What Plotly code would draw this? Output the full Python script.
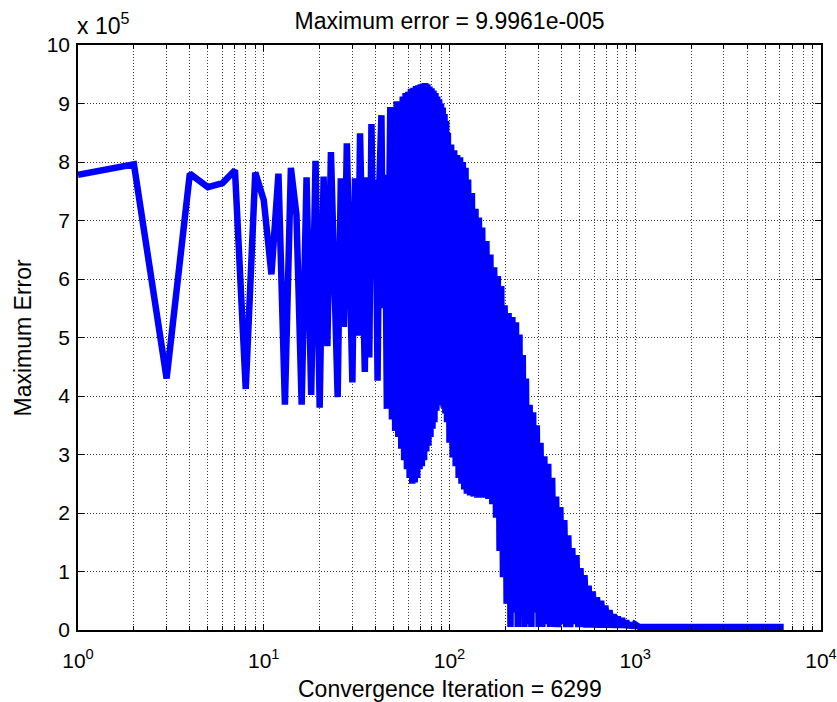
import plotly.graph_objects as go

# ---- data (iteration, maximum error in units of 1e5) ----
iters = [1, 2, 3, 4, 5, 6, 7, 8, 9, 10, 11, 12, 13, 14, 15, 16, 17, 18, 19, 20,
         21, 22, 23, 24, 25, 26, 27, 28, 29, 30, 31, 32, 33, 34, 35, 36, 37, 38, 39, 40,
         41, 42, 43, 44, 45, 46, 47, 48, 49, 50, 51, 52, 53, 54, 55, 56, 57, 58, 59, 60,
         61, 62, 63, 64, 65, 66, 67, 68, 69, 70, 71, 72, 73, 74, 75, 76, 77, 78, 79, 80,
         81, 82, 83, 84, 85, 86, 87, 88, 89, 90, 91, 92, 93, 94, 95, 96, 97, 98, 100, 102,
         104, 106, 108, 110, 112, 114, 116, 118, 120, 122, 124, 126, 129, 132, 135, 138, 141, 144, 147, 150,
         154, 158, 162, 166, 170, 174, 178, 182, 186, 190, 194, 198, 203, 208, 213, 218, 223, 228, 233, 238,
         243, 248, 253, 258, 264, 270, 276, 282, 288, 295, 302, 309, 316, 324, 332, 340, 348, 357, 366, 375,
         385, 395, 405, 415, 425, 436, 447, 458, 470, 482, 494, 507, 520, 533, 547, 561, 575, 590, 606, 622,
         638, 655, 672, 690, 708, 727, 746, 765, 785, 806, 827, 849, 871, 894, 918, 942, 967, 992, 1050, 1200,
         6299]

max_err = [7.78, 7.96, 4.30, 7.80, 7.57, 7.64, 7.86, 4.12, 7.82, 7.35, 6.08, 7.80, 3.85, 7.90, 7.10, 3.85, 7.74, 4.02, 8.02, 3.80,
           7.75, 4.85, 8.17, 5.90, 3.98, 7.72, 5.18, 8.32, 6.20, 4.23, 7.72, 5.03, 8.49, 6.40, 4.41, 7.74, 4.66, 8.65, 6.00, 7.70,
           4.26, 7.75, 8.80, 5.50, 7.78, 3.78, 7.20, 8.94, 3.60, 7.80, 3.40, 9.04, 3.30, 8.50, 3.10, 9.12, 2.90, 9.18, 2.75, 9.20,
           2.60, 9.25, 2.50, 9.27, 2.52, 9.30, 2.60, 9.31, 2.75, 9.33, 2.80, 9.34, 2.90, 9.35, 3.05, 9.33, 3.15, 9.29, 3.30, 9.26,
           3.44, 9.22, 3.55, 9.18, 3.75, 9.12, 3.84, 9.07, 3.86, 9.00, 3.88, 8.93, 3.80, 8.82, 3.70, 8.70, 3.55, 8.50, 3.20, 8.30,
           2.95, 8.20, 2.80, 8.12, 2.60, 8.08, 2.50, 8.00, 2.40, 7.90, 2.33, 7.70, 2.30, 7.47, 2.28, 7.20, 2.26, 7.05, 2.26, 6.88,
           2.26, 6.65, 2.24, 6.42, 2.15, 6.20, 1.92, 6.05, 1.35, 5.88, 0.90, 5.55, 0.45, 5.42, 0.05, 5.35, 0.30, 5.26, 0.05, 5.05,
           0.60, 4.70, 0.05, 4.30, 0.10, 3.85, 0.05, 3.72, 0.30, 3.50, 0.05, 3.20, 0.05, 2.97, 0.10, 2.84, 0.05, 2.60, 0.05, 2.28,
           0.05, 2.10, 0.10, 1.88, 0.05, 1.62, 0.05, 1.40, 0.10, 1.28, 0.05, 1.06, 0.05, 0.94, 0.04, 0.76, 0.04, 0.66, 0.04, 0.56,
           0.04, 0.50, 0.04, 0.42, 0.04, 0.34, 0.04, 0.27, 0.04, 0.23, 0.04, 0.20, 0.04, 0.16, 0.04, 0.12, 0.04, 0.10, 0.05, 0.05,
           0.05]

x_tickvals = [1, 10, 100, 1000, 10000]
x_ticktext = ["10<sup>0</sup>", "10<sup>1</sup>", "10<sup>2</sup>", "10<sup>3</sup>", "10<sup>4</sup>"]
x_minor = [m * 10 ** k for k in range(4) for m in range(2, 10)]
y_tickvals = list(range(0, 11))

title_text = "Maximum error = 9.9961e-005"
xlabel_text = "Convergence Iteration = 6299"
ylabel_text = "Maximum Error"
scale_text = "x 10<sup>5</sup>"

FONT = "Liberation Sans, Arial, sans-serif"
FS_TICK = 21
FS_LAB = 23
W, H = 837, 702
L, R, T, B = 78, 16, 45, 72
plot_h = H - T - B
plot_w = W - L - R

fig = go.Figure()
fig.add_trace(go.Scatter(x=iters, y=max_err, mode="lines",
                         line=dict(color="#0000FF", width=6.5), showlegend=False,
                         hoverinfo="skip"))

grid_kw = dict(gridcolor="#3a3a3a", griddash="1px,2px", gridwidth=1)

fig.update_layout(
    width=W, height=H,
    margin=dict(l=L, r=R, t=T, b=B, autoexpand=False),
    paper_bgcolor="white", plot_bgcolor="white",
    font=dict(family=FONT, size=FS_TICK, color="black"),
    title=dict(text=title_text, x=(L + plot_w / 2) / W, xanchor="center",
               y=1 - 21 / H, yanchor="middle", yref="container",
               font=dict(family=FONT, size=FS_LAB, color="black")),
    xaxis=dict(type="log", range=[0, 4], tickmode="array", tickvals=x_tickvals,
               ticktext=x_ticktext, ticks="inside", ticklen=6, tickcolor="black",
               showline=True, linecolor="black", linewidth=1.5, mirror="ticks",
               showgrid=True, zeroline=False, automargin=False, ticklabelstandoff=11,
               minor=dict(tickmode="array", tickvals=x_minor, ticks="inside", ticklen=4,
                          tickcolor="black", showgrid=True, **grid_kw),
               tickfont=dict(family=FONT, size=FS_TICK, color="black"), **grid_kw),
    yaxis=dict(range=[0, 10], tickmode="array", tickvals=y_tickvals,
               ticks="inside", ticklen=6, tickcolor="black",
               showline=True, linecolor="black", linewidth=1.5, mirror="ticks",
               showgrid=True, zeroline=False, automargin=False, ticklabelstandoff=2,
               tickfont=dict(family=FONT, size=FS_TICK, color="black"), **grid_kw),
    annotations=[
        dict(text=xlabel_text, xref="paper", yref="paper", x=0.5, y=(630 - 689) / plot_h,
             xanchor="center", yanchor="middle", showarrow=False,
             font=dict(family=FONT, size=FS_LAB, color="black")),
        dict(text=ylabel_text, xref="paper", yref="paper", x=(22 - L) / plot_w, y=0.5,
             xanchor="center", yanchor="middle", showarrow=False, textangle=-90,
             font=dict(family=FONT, size=FS_LAB, color="black")),
        dict(text=scale_text, xref="paper", yref="paper", x=-0.004, y=(630 - 41) / plot_h,
             xanchor="left", yanchor="bottom", showarrow=False,
             font=dict(family=FONT, size=FS_LAB, color="black")),
    ],
)

fig.write_html("out.html")
